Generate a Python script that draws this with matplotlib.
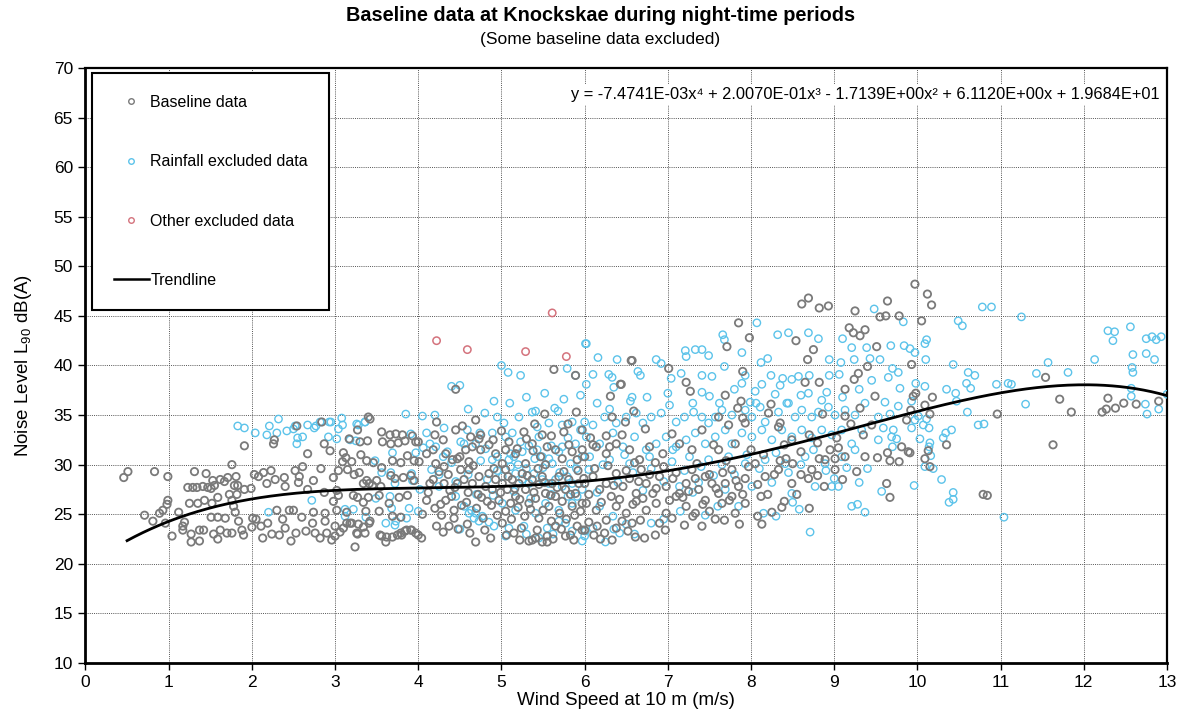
import matplotlib
matplotlib.use('Agg')
import matplotlib.pyplot as plt
import numpy as np
from matplotlib.lines import Line2D

plt.rcParams['font.family'] = ['Liberation Sans', 'DejaVu Sans']
plt.rcParams['mathtext.default'] = 'regular'

# ---------------- data (wind speed m/s, noise level dB(A)) ----------------
base_low_wind = [
    (0.46, 28.7), (0.51, 29.3), (0.83, 29.3), (0.99, 28.8), (0.71, 24.9), (0.81, 24.3), (0.89, 25.1),
    (0.93, 25.4), (0.98, 26.0), (0.99, 26.4), (0.96, 24.1),
    (1.04, 22.8), (1.12, 25.2), (1.17, 23.8), (1.17, 23.4), (1.19, 24.2), (1.23, 27.7), (1.29, 27.7),
    (1.34, 27.7), (1.41, 27.8), (1.47, 27.7), (1.51, 27.6), (1.31, 29.3), (1.45, 29.1), (1.53, 28.4),
    (1.55, 27.9), (1.62, 28.5), (1.67, 28.3), (1.71, 28.7), (1.81, 28.8), (1.76, 30.0), (1.83, 27.9),
    (1.79, 27.9), (1.91, 27.5), (1.99, 27.6), (1.25, 26.1), (1.35, 26.1), (1.43, 26.4), (1.52, 26.1),
    (1.59, 26.7), (1.73, 27.0), (1.76, 26.4), (1.82, 27.0), (1.78, 25.8), (1.80, 25.2),
    (1.27, 23.0), (1.27, 22.2), (1.37, 22.3), (1.37, 23.4), (1.42, 23.4), (1.51, 24.7), (1.59, 24.7),
    (1.54, 23.0), (1.59, 22.5), (1.62, 23.4), (1.68, 24.6), (1.70, 23.1), (1.76, 23.1), (1.84, 24.3),
    (1.88, 23.4), (1.90, 22.9), (2.00, 23.7), (2.01, 24.6), (2.05, 24.5), (2.11, 23.8), (2.13, 22.6),
    (2.19, 24.1), (2.24, 23.0), (2.30, 25.4), (2.37, 24.5), (2.40, 23.6), (2.45, 25.4), (2.50, 25.4),
    (2.47, 22.3), (2.53, 23.1), (2.60, 24.7), (2.74, 25.2), (2.73, 24.1), (2.76, 23.1), (2.88, 24.3),
    (2.90, 23.1), (2.96, 22.4), (2.82, 22.6), (2.65, 23.3), (2.33, 22.9),
    (1.91, 31.9), (2.27, 32.5), (2.26, 32.1), (2.54, 33.9), (2.67, 31.1), (2.84, 34.3), (2.87, 32.1),
    (2.94, 31.4), (2.03, 29.0), (2.08, 28.8), (2.14, 29.2), (2.23, 29.4), (2.18, 28.1), (2.28, 28.5),
    (2.39, 28.7), (2.40, 27.8), (2.52, 29.4), (2.57, 28.8), (2.56, 28.2), (2.61, 29.8), (2.67, 27.5),
    (2.74, 28.4), (2.83, 29.6), (2.87, 27.2), (2.98, 28.7), (2.98, 26.3), (2.88, 25.1),
]

base_3_to_4 = [
    (3.24, 21.7), (3.40, 34.8), (3.42, 34.6), (3.17, 32.6), (3.27, 33.5), (3.30, 32.3), (3.39, 32.4),
    (3.56, 33.3), (3.66, 33.0), (3.73, 33.1), (3.81, 33.0), (3.57, 32.3), (3.67, 32.1), (3.76, 32.2),
    (3.84, 32.4), (3.93, 32.9), (3.97, 32.3), (3.10, 31.2), (3.13, 30.7), (3.20, 30.3), (3.09, 30.3),
    (3.31, 31.0), (3.38, 30.4), (3.46, 30.2), (3.56, 29.7), (3.69, 30.4), (3.79, 30.2), (3.87, 30.9),
    (3.95, 30.4), (3.04, 29.4), (3.15, 29.5), (3.23, 29.0), (3.29, 29.2), (3.38, 28.4), (3.41, 28.1),
    (3.34, 28.1), (3.45, 27.9), (3.50, 28.4), (3.55, 27.8), (3.67, 28.9), (3.72, 28.6), (3.82, 28.7),
    (3.91, 28.9), (3.95, 28.4), (3.02, 27.4), (3.04, 26.9), (3.22, 26.9), (3.27, 26.7), (3.34, 26.2),
    (3.40, 26.7), (3.53, 26.9), (3.65, 26.1), (3.77, 26.7), (3.87, 26.9), (3.02, 25.4), (3.14, 25.2),
    (3.37, 25.3), (3.53, 25.3), (3.69, 24.8), (3.79, 24.7), (3.14, 24.1), (3.20, 24.1), (3.28, 24.0),
    (3.34, 23.7), (3.41, 24.1), (3.10, 23.6), (3.06, 23.2), (3.27, 23.0), (3.36, 23.1), (3.56, 22.8),
    (3.61, 22.2), (3.62, 22.7), (3.69, 22.7), (3.75, 22.9), (3.79, 23.1), (3.84, 23.3), (3.91, 23.4),
    (3.97, 23.1), (3.00, 23.8), (3.00, 22.8), (3.18, 24.1), (3.26, 23.1), (3.42, 24.3), (3.54, 22.9),
    (3.80, 22.9), (3.86, 23.4), (3.92, 23.4),
]

base_4_to_6 = [
    (5.63, 39.6), (4.45, 37.6), (5.89, 39.0), (4.22, 34.3), (4.69, 34.5), (4.45, 33.5), (4.53, 33.9),
    (5.52, 35.1), (5.90, 35.3), (5.27, 33.3), (5.49, 33.0), (5.80, 34.1), (5.97, 33.5), (4.75, 33.0),
    (4.00, 32.3), (4.01, 30.3), (4.10, 31.1), (4.18, 31.5), (4.21, 30.1), (4.31, 29.8), (4.33, 31.1),
    (4.41, 30.5), (4.47, 30.6), (4.57, 31.5), (4.61, 30.3), (4.63, 32.8), (4.73, 32.6), (4.65, 31.8),
    (4.75, 31.5), (4.85, 32.0), (4.93, 31.1), (5.01, 30.1), (5.05, 31.5), (5.09, 32.3), (5.17, 31.1),
    (5.19, 31.6), (5.29, 30.1), (5.37, 32.1), (5.38, 31.4), (5.47, 30.8), (5.53, 30.0), (5.55, 31.8),
    (5.65, 31.5), (5.73, 30.6), (5.81, 32.0), (5.85, 31.3), (5.91, 30.5), (5.97, 31.5),
    (4.10, 26.4), (4.14, 28.1), (4.18, 28.5), (4.25, 29.3), (4.31, 28.1), (4.33, 26.4), (4.38, 27.4),
    (4.43, 25.4), (4.47, 28.1), (4.51, 29.5), (4.55, 28.5), (4.61, 29.5), (4.65, 28.1), (4.73, 28.8),
    (4.76, 26.7), (4.81, 27.8), (4.85, 29.1), (4.89, 27.5), (4.93, 28.5), (4.97, 26.4), (5.01, 28.1),
    (5.05, 29.5), (5.07, 27.5), (5.11, 26.1), (5.13, 28.5), (5.17, 26.8), (5.21, 28.1), (5.25, 29.1),
    (5.29, 27.5), (5.33, 26.1), (5.37, 28.5), (5.41, 26.6), (5.45, 28.0), (5.49, 28.8), (5.53, 27.1),
    (5.57, 25.8), (5.61, 28.1), (5.65, 26.8), (5.69, 28.8), (5.73, 26.3), (5.77, 27.5), (5.81, 28.5),
    (5.85, 25.8), (5.89, 27.1), (5.93, 28.1), (5.97, 26.1),
    (4.00, 22.9), (4.04, 22.6), (4.22, 23.8), (4.37, 23.8), (4.43, 24.6), (4.59, 24.0), (4.69, 22.2),
    (5.01, 24.1), (5.15, 23.1), (5.33, 22.3), (5.37, 22.4), (5.41, 22.6), (5.49, 22.2), (5.55, 22.8),
    (5.55, 22.2), (5.65, 23.8), (5.77, 22.8), (5.83, 22.9), (5.91, 23.8), (5.97, 23.4),
    (4.05, 25.0), (4.20, 25.6), (4.28, 24.9), (4.40, 26.8), (4.52, 25.9), (4.60, 27.2), (4.70, 25.6),
    (4.78, 24.6), (4.88, 25.9), (4.95, 24.9), (5.05, 25.3), (5.12, 24.5), (5.20, 25.7), (5.28, 24.8),
    (5.35, 25.5), (5.45, 24.6), (5.50, 25.4), (5.60, 24.3), (5.70, 25.1), (5.78, 24.5), (5.88, 24.9),
    (5.95, 25.3),
]

base_core_extra = [
    (4.12, 27.2), (4.27, 26.0), (4.36, 29.0), (4.44, 27.7), (4.58, 26.2), (4.66, 29.9), (4.72, 27.0),
    (4.83, 26.3), (4.91, 29.6), (4.99, 27.2), (5.08, 28.8), (5.16, 27.6), (5.22, 26.5), (5.31, 28.9),
    (5.39, 27.2), (5.44, 29.6), (5.52, 28.2), (5.59, 26.9), (5.67, 27.7), (5.75, 29.3), (5.83, 27.0),
    (5.92, 29.4), (5.99, 28.6), (4.30, 23.2), (4.48, 23.5), (4.62, 23.1), (4.80, 23.4), (4.87, 22.6),
    (5.06, 22.9), (5.22, 22.4), (5.24, 23.6), (5.43, 23.4), (5.62, 22.5), (5.72, 23.5), (5.87, 22.4),
    (6.05, 24.2), (6.15, 23.8), (6.24, 23.1), (6.33, 22.4), (6.52, 23.3), (6.61, 22.7), (6.85, 22.9),
    (7.05, 24.6), (7.20, 23.9), (7.30, 24.8), (7.50, 25.3), (7.68, 24.4),
    (6.05, 27.0), (6.12, 29.6), (6.20, 26.2), (6.28, 29.9), (6.35, 27.9), (6.42, 26.5), (6.50, 29.4),
    (6.58, 26.0), (6.65, 28.3), (6.70, 26.6), (6.78, 29.0), (6.86, 27.6), (6.95, 29.8), (7.02, 26.4),
    (7.10, 29.2), (7.18, 26.7), (7.25, 27.3), (7.33, 28.6), (7.42, 26.0), (7.50, 29.0), (7.58, 27.6),
    (7.66, 29.2), (7.74, 26.4), (7.82, 28.4), (7.90, 27.0), (7.97, 29.8), (8.08, 28.0), (8.20, 27.0),
    (8.28, 29.0), (8.42, 30.6), (8.60, 29.0), (8.80, 28.9), (8.95, 31.5),
    (6.10, 32.0), (6.45, 33.0), (6.60, 30.2), (6.85, 30.2), (7.05, 33.1), (7.35, 30.1), (7.55, 32.0),
    (7.70, 30.4), (8.00, 31.5), (8.15, 31.0), (8.40, 32.0), (8.60, 31.3), (8.80, 32.2), (9.05, 31.7),
    (9.20, 34.1), (9.35, 33.0), (4.30, 32.5), (4.50, 30.8), (4.90, 32.5), (5.30, 32.6), (5.60, 32.9),
    (5.75, 33.3), (4.20, 33.0), (5.00, 33.4), (5.40, 34.1),
]

base_6_to_9 = [
    (8.61, 46.2), (8.69, 46.8), (8.82, 45.8), (8.93, 46.0), (9.25, 45.5), (7.85, 44.3), (7.98, 42.8),
    (7.71, 41.9), (8.54, 42.5), (8.75, 41.6), (8.68, 40.6), (9.18, 43.8), (9.23, 43.3), (9.31, 43.0),
    (9.37, 43.6), (9.40, 39.9), (9.29, 39.2), (9.24, 38.6), (6.57, 40.5), (7.01, 39.7), (6.44, 38.1),
    (6.31, 36.9), (7.22, 38.3), (7.27, 37.4), (7.90, 39.4), (7.69, 37.0), (7.88, 36.4), (7.84, 35.7),
    (8.65, 38.3), (8.82, 38.3), (9.13, 37.6), (9.31, 35.7), (6.59, 35.4), (6.33, 34.8), (6.49, 34.3),
    (6.73, 33.6), (7.61, 34.8), (7.90, 34.7), (7.73, 34.0), (8.21, 35.2), (8.24, 36.1), (8.35, 34.2),
    (8.86, 35.1), (9.13, 34.9), (9.03, 32.7), (8.70, 33.0), (8.35, 30.4), (8.50, 30.1), (8.82, 30.6),
    (9.01, 30.6), (9.37, 30.8), (9.27, 29.3), (9.10, 28.5), (8.88, 27.8), (8.69, 28.6), (8.55, 27.0),
    (8.40, 26.3), (8.37, 25.7), (8.70, 25.6), (8.25, 25.2), (8.12, 26.8), (8.08, 24.8), (8.13, 24.0),
    (7.86, 24.0), (7.81, 25.1), (7.57, 24.5), (7.41, 23.8), (6.97, 23.4), (6.90, 24.1), (6.72, 22.6),
    (6.57, 24.1), (6.67, 24.4), (6.19, 22.5), (6.11, 22.9), (6.00, 23.4), (6.38, 23.6), (6.45, 24.3),
    (6.56, 40.5), (6.43, 38.1), (6.07, 32.7), (6.26, 32.9), (6.30, 31.8),
    (6.00, 28.1), (6.10, 28.8), (6.18, 27.5), (6.26, 28.1), (6.32, 26.8), (6.38, 29.1), (6.46, 27.8),
    (6.54, 28.6), (6.62, 27.1), (6.68, 29.5), (6.74, 28.1), (6.82, 27.1), (6.90, 28.8), (6.98, 27.8),
    (7.06, 28.6), (7.14, 27.1), (7.22, 28.1), (7.29, 29.5), (7.37, 27.5), (7.45, 28.8), (7.53, 28.1),
    (7.61, 27.1), (7.69, 28.1), (7.77, 29.5), (7.85, 27.8), (7.93, 28.6), (8.05, 30.1), (8.17, 28.8),
    (8.33, 29.5), (8.49, 28.1), (8.73, 29.5), (8.89, 30.5), (9.01, 29.5), (9.13, 30.8),
    (6.02, 26.1), (6.14, 25.4), (6.26, 24.4), (6.38, 25.8), (6.50, 25.1), (6.62, 26.3), (6.74, 25.4),
    (6.86, 26.1), (6.98, 25.1), (7.10, 26.8), (7.22, 25.8), (7.33, 25.1), (7.45, 26.4), (7.65, 26.1),
    (7.77, 26.8), (7.93, 26.1),
    (6.00, 30.8), (6.14, 31.8), (6.26, 31.1), (6.38, 32.1), (6.54, 31.5), (6.66, 30.5), (6.78, 31.8),
    (6.94, 31.1), (7.14, 32.1), (7.29, 31.5), (7.41, 33.5), (7.61, 31.5), (7.81, 32.1), (7.93, 34.2),
    (8.33, 33.8), (8.49, 32.5),
]

base_high_wind = [
    (9.97, 48.2), (10.12, 47.2), (10.17, 46.1), (9.64, 46.5), (9.55, 44.9), (9.62, 45.0), (9.78, 45.0),
    (10.05, 44.5), (9.51, 41.9), (9.93, 40.1), (9.49, 36.9), (9.95, 36.9), (9.98, 37.2), (9.92, 35.5),
    (10.09, 36.0), (10.15, 35.1), (10.18, 36.8), (9.87, 34.5), (9.45, 34.0), (9.81, 31.8), (9.89, 31.3),
    (9.91, 31.2), (10.13, 31.4), (10.09, 30.6), (10.15, 29.8), (10.35, 32.0), (9.52, 30.7), (9.64, 31.2),
    (9.67, 30.4), (9.78, 30.3), (9.63, 28.1), (9.67, 26.7), (10.79, 27.0), (10.84, 26.9), (10.96, 35.1),
    (11.54, 38.8), (11.71, 36.6), (11.63, 32.0), (11.85, 35.3), (12.22, 35.3), (12.27, 35.6),
    (12.29, 36.7), (12.38, 35.7), (12.48, 36.2), (12.63, 36.1), (12.90, 36.4),
]

rain_low_wind = [
    (1.83, 33.9), (1.91, 33.7), (2.04, 33.2), (2.21, 33.9), (2.18, 33.0), (2.30, 33.2), (2.32, 34.6),
    (2.42, 33.4), (2.50, 33.6), (2.52, 33.9), (2.55, 32.7), (2.54, 32.1), (2.61, 32.8), (2.67, 34.0),
    (2.75, 33.7), (2.77, 33.9), (2.92, 32.8), (2.95, 34.3), (2.72, 26.4), (2.20, 25.2),
    (3.85, 35.1), (3.08, 34.7), (3.09, 34.0), (3.04, 33.6), (2.82, 34.3), (2.93, 34.3), (3.26, 34.1),
    (3.36, 34.3), (3.25, 32.4), (3.48, 30.4), (3.91, 33.1), (3.97, 31.2), (3.69, 31.2), (3.56, 29.2),
    (3.67, 29.2), (3.49, 26.6), (3.12, 25.5), (3.22, 25.5), (3.37, 24.7), (3.61, 24.1), (3.73, 24.3),
    (3.68, 25.6), (3.89, 25.6), (3.93, 28.4), (3.72, 28.1), (3.92, 29.1), (3.66, 26.8), (3.72, 23.9),
    (3.86, 24.6), (3.12, 24.8), (3.02, 32.6), (3.18, 32.5), (3.36, 34.3), (3.28, 34.0),
]

rain_4_to_6 = [
    (4.50, 38.0), (5.00, 40.0), (5.08, 39.3), (5.23, 39.0), (5.79, 39.7), (5.89, 39.0), (6.01, 42.2),
    (4.91, 36.4), (5.37, 35.3), (5.41, 35.4), (5.64, 35.7), (5.68, 35.4), (5.21, 34.8), (4.95, 34.8),
    (4.10, 33.2), (4.31, 33.7), (5.85, 34.3), (5.73, 34.0), (5.57, 34.2), (5.43, 33.8), (5.03, 34.2),
    (5.13, 33.2), (4.89, 33.2), (4.59, 33.5), (4.74, 33.2), (4.06, 31.7), (4.14, 32.1), (4.21, 31.8),
    (4.35, 31.3), (4.30, 30.8), (4.51, 32.3), (4.55, 32.1), (4.69, 32.1), (4.81, 31.6), (4.89, 30.5),
    (4.95, 30.8), (5.09, 30.5), (5.15, 30.8), (5.23, 32.3), (5.25, 31.3), (5.33, 31.9), (5.43, 31.5),
    (5.49, 30.8), (5.57, 30.6), (5.61, 30.1), (5.69, 31.3), (5.73, 31.8), (5.83, 30.1), (5.89, 32.1),
    (5.97, 30.8), (5.45, 32.8), (5.11, 31.1), (4.02, 27.5), (4.16, 29.5), (4.25, 27.8), (4.45, 26.8),
    (4.55, 25.8), (4.61, 25.1), (4.69, 25.1), (4.77, 24.8), (4.64, 25.4), (4.83, 28.5), (5.01, 28.8),
    (5.11, 29.8), (5.17, 29.1), (5.25, 28.5), (5.33, 28.1), (5.39, 29.1), (5.49, 28.5), (5.57, 28.1),
    (5.65, 28.5), (5.73, 27.8), (5.79, 28.8), (5.85, 28.1), (5.91, 26.8), (5.97, 27.5), (5.01, 26.1),
    (5.17, 25.4), (5.41, 25.1), (5.53, 26.1), (5.69, 25.4), (5.85, 26.1), (4.00, 25.3), (4.67, 24.6),
    (4.73, 24.3), (4.91, 23.8), (5.09, 23.6), (5.27, 23.8), (5.55, 23.6), (5.69, 24.3), (5.77, 24.1),
    (5.97, 22.3), (6.01, 23.3), (4.05, 34.9), (4.40, 37.9), (5.52, 37.2),
]

rain_core_extra = [
    (4.40, 30.2), (4.60, 29.0), (4.75, 30.4), (4.95, 29.4), (5.05, 32.8), (5.20, 30.0), (5.30, 29.6),
    (5.40, 30.6), (5.50, 29.7), (5.60, 31.9), (5.70, 29.2), (5.80, 32.7), (5.90, 29.6), (5.95, 33.5),
    (4.50, 23.5), (4.85, 24.2), (5.05, 22.8), (5.30, 23.0), (5.45, 22.6), (5.62, 23.0), (5.85, 23.3),
    (6.10, 23.6), (6.25, 22.2), (6.35, 23.5), (6.50, 24.0), (6.60, 23.0), (6.95, 24.5), (7.15, 25.3),
    (7.45, 24.9), (7.60, 25.8), (7.85, 25.8), (8.30, 24.8), (8.50, 26.2),
    (6.05, 29.5), (6.15, 27.2), (6.22, 30.0), (6.40, 28.2), (6.48, 31.0), (6.58, 29.2), (6.70, 27.4),
    (6.80, 29.6), (6.95, 28.3), (7.05, 30.3), (7.20, 29.4), (7.30, 27.2), (7.40, 29.8), (7.55, 28.9),
    (7.65, 30.0), (7.80, 29.0), (7.95, 31.0), (8.10, 29.6), (8.30, 31.2), (8.45, 29.2), (8.60, 30.0),
    (8.75, 31.5), (8.90, 29.4), (9.00, 28.6), (9.15, 29.7), (9.30, 28.2), (9.40, 29.6),
    (6.15, 36.2), (6.30, 35.6), (6.55, 36.4), (6.75, 36.8), (7.00, 37.2), (7.30, 36.2), (7.50, 36.9),
    (7.80, 37.6), (8.05, 37.4), (8.35, 38.0), (8.60, 37.0), (8.85, 36.5), (9.10, 36.8), (9.30, 37.6),
    (9.45, 38.5), (4.20, 35.0), (4.60, 35.6), (4.80, 35.2), (5.10, 36.2), (5.30, 36.8), (5.75, 36.6),
    (5.95, 37.0), (4.25, 29.0), (4.45, 28.3), (4.70, 27.0), (4.90, 26.9), (5.15, 27.3), (5.35, 26.6),
    (5.60, 27.0), (5.80, 26.8),
]

rain_6_to_9 = [
    (9.48, 45.7), (8.07, 44.3), (7.66, 43.1), (7.68, 42.6), (8.32, 43.1), (8.45, 43.3), (8.69, 43.3),
    (8.81, 42.7), (9.10, 42.7), (9.21, 41.8), (9.39, 41.8), (7.21, 41.5), (7.33, 41.6), (7.41, 41.6),
    (7.49, 41.0), (7.22, 40.9), (7.89, 41.3), (8.12, 40.3), (8.20, 40.7), (8.94, 40.6), (9.08, 40.3),
    (9.24, 40.6), (9.43, 40.7), (6.02, 42.2), (6.16, 40.8), (6.39, 40.6), (6.86, 40.6), (6.92, 40.2),
    (6.10, 39.1), (6.29, 39.1), (6.33, 38.8), (6.64, 39.4), (6.67, 39.0), (6.02, 38.1), (6.35, 37.8),
    (6.57, 36.8), (7.04, 38.7), (7.16, 39.2), (7.41, 39.0), (7.53, 38.9), (7.68, 39.9), (7.89, 38.2),
    (7.93, 39.0), (8.24, 39.0), (8.13, 38.1), (8.38, 38.7), (8.49, 38.6), (8.57, 38.9), (8.70, 39.0),
    (8.94, 39.0), (9.06, 39.1), (7.41, 37.3), (7.62, 36.2), (7.99, 36.3), (8.06, 36.2), (8.29, 37.1),
    (8.45, 36.2), (8.69, 37.2), (8.91, 37.3),
    (6.00, 34.3), (6.10, 34.0), (6.24, 34.8), (6.38, 34.2), (6.50, 34.8), (6.62, 35.2), (6.70, 34.2),
    (6.80, 34.8), (6.92, 35.2), (7.02, 36.0), (7.10, 34.3), (7.20, 34.8), (7.31, 35.3), (7.41, 34.8),
    (7.49, 34.2), (7.57, 34.8), (7.65, 35.5), (7.77, 35.0), (7.93, 35.5), (8.01, 34.8), (8.11, 35.8),
    (8.17, 34.3), (8.33, 35.3), (8.43, 36.2), (8.53, 34.8), (8.61, 35.5), (8.73, 34.8), (8.81, 35.3),
    (8.93, 35.8), (9.01, 35.0), (9.13, 35.5), (9.25, 35.0), (9.37, 36.2),
    (6.02, 32.8), (6.18, 32.1), (6.34, 33.2), (6.46, 31.8), (6.60, 32.8), (6.74, 31.5), (6.86, 32.1),
    (6.98, 32.8), (7.10, 31.8), (7.22, 32.5), (7.33, 33.2), (7.45, 32.1), (7.57, 32.8), (7.69, 33.5),
    (7.77, 32.1), (7.89, 33.2), (8.01, 32.8), (8.13, 33.5), (8.25, 32.5), (8.37, 33.5), (8.49, 32.8),
    (8.61, 33.5), (8.73, 32.7), (8.85, 33.5), (8.97, 33.0), (9.09, 33.5), (9.21, 32.1), (9.33, 33.5),
    (6.06, 30.8), (6.30, 30.5), (6.54, 30.1), (6.78, 30.8), (7.06, 31.5), (7.26, 30.8), (7.49, 30.5),
    (7.73, 30.8), (7.93, 30.1), (8.17, 30.5), (8.41, 30.1), (8.65, 30.8), (8.89, 30.1), (9.09, 30.8),
    (9.25, 31.5), (7.14, 27.8), (7.37, 28.2), (7.69, 27.5), (8.01, 27.8), (8.25, 28.2), (8.49, 27.1),
    (8.77, 27.8), (8.97, 27.8), (9.05, 27.8), (9.21, 25.8), (9.28, 26.0), (9.37, 25.2), (8.71, 23.2),
    (8.58, 25.5), (8.15, 25.1), (6.80, 24.1), (6.42, 23.1), (6.34, 24.8), (6.18, 25.8), (6.00, 22.8),
]

rain_high_wind = [
    (9.83, 44.4), (10.78, 45.9), (10.89, 45.9), (11.25, 44.9), (10.49, 44.5), (10.54, 44.0),
    (10.11, 42.6), (10.09, 42.2), (9.68, 42.0), (9.84, 42.0), (9.91, 41.7), (9.97, 41.3), (10.10, 40.6),
    (10.43, 40.1), (9.55, 40.6), (9.77, 39.3), (10.61, 39.3), (10.69, 39.0), (11.57, 40.3), (11.43, 39.2),
    (11.81, 39.3), (12.13, 40.6), (12.29, 43.5), (12.37, 43.4), (12.35, 42.5), (12.56, 43.9),
    (12.59, 41.1), (12.58, 39.8), (12.59, 39.3), (12.75, 42.7), (12.82, 42.9), (12.87, 42.6),
    (12.93, 42.9), (12.75, 41.2), (12.85, 40.6), (12.57, 37.7), (12.57, 36.9), (12.74, 36.1),
    (12.76, 35.1), (12.90, 35.6), (13.00, 37.1), (10.95, 38.1), (11.09, 38.2), (11.13, 38.1),
    (11.30, 36.1), (10.60, 35.3), (10.46, 37.2), (10.47, 36.4), (10.35, 37.6), (10.59, 38.2),
    (10.64, 37.7), (10.73, 34.0), (10.80, 34.1), (10.41, 33.5), (10.34, 33.2), (10.31, 32.7),
    (10.15, 32.2), (10.14, 31.8), (10.16, 30.9), (10.09, 29.8), (10.19, 29.6), (10.29, 28.5),
    (10.43, 27.2), (10.43, 26.5), (10.38, 26.2), (9.96, 27.9), (9.57, 27.3), (11.04, 24.7),
    (10.03, 32.6), (10.07, 34.0), (10.14, 33.7), (10.11, 34.6), (10.01, 34.9), (9.97, 34.5),
    (9.93, 36.4), (9.98, 38.2), (10.09, 37.9), (9.65, 38.8), (9.70, 39.7), (9.79, 37.7), (9.61, 36.3),
    (9.77, 35.9), (9.67, 35.1), (9.53, 34.8), (9.59, 33.7), (9.71, 33.5), (9.69, 32.8), (9.75, 32.6),
    (9.70, 31.8), (9.53, 32.5), (9.93, 33.7),
]

other_excluded = [(4.22, 42.5), (4.59, 41.6), (5.29, 41.4), (5.61, 45.3), (5.78, 40.9)]

trend_coefficients = [-7.4741e-3, 2.0070e-1, -1.7139e+0, 6.1120e+0, 1.9684e+1]
trend_range = (0.5, 13.0)

x_ticks = list(range(0, 14))
y_ticks = list(range(10, 75, 5))

title = 'Baseline data at Knockskae during night-time periods'
subtitle = '(Some baseline data excluded)'
equation = ('y = -7.4741E-03x\u2074 + 2.0070E-01x\u00b3 - 1.7139E+00x\u00b2 '
            '+ 6.1120E+00x + 1.9684E+01')
legend_labels = ['Baseline data', 'Rainfall excluded data', 'Other excluded data', 'Trendline']

# ---------------- styling ----------------
col_base = '#7a7a7a'
col_rain = '#5cc3ea'
col_other = '#d4737d'

fig = plt.figure(figsize=(11.89, 7.23), dpi=100)
ax = fig.add_axes([0.0719, 0.083, 0.9096, 0.823])

base = np.array(base_low_wind + base_3_to_4 + base_4_to_6 + base_core_extra + base_6_to_9 + base_high_wind)
rain = np.array(rain_low_wind + rain_4_to_6 + rain_core_extra + rain_6_to_9 + rain_high_wind)
other = np.array(other_excluded)

ms = 28
ax.scatter(rain[:, 0], rain[:, 1], s=ms, facecolors='none', edgecolors=col_rain, linewidths=1.0, zorder=3)
ax.scatter(base[:, 0], base[:, 1], s=ms, facecolors='none', edgecolors=col_base, linewidths=1.3, zorder=3)
ax.scatter(other[:, 0], other[:, 1], s=ms, facecolors='none', edgecolors=col_other, linewidths=1.1, zorder=3)

tx = np.linspace(trend_range[0], trend_range[1], 400)
ax.plot(tx, np.polyval(trend_coefficients, tx), color='black', lw=2.0, zorder=5)

ax.set_xlim(0, 13)
ax.set_ylim(10, 70)
ax.set_xticks(x_ticks)
ax.set_yticks(y_ticks)
ax.grid(True, color='#555555', linestyle=(0, (1, 1.2)), linewidth=0.7, zorder=0)
ax.set_axisbelow(True)
ax.tick_params(direction='out', length=5, width=1, labelsize=12.5, pad=4, colors='black')
for side in ['left', 'bottom']:
    ax.spines[side].set_linewidth(2.0)
for side in ['top', 'right']:
    ax.spines[side].set_linewidth(1.6)

ax.set_xlabel('Wind Speed at 10 m (m/s)', fontsize=13.5, labelpad=1)
ax.set_ylabel('Noise Level L$_{90}$ dB(A)', fontsize=13.5, labelpad=14)

handles = [
    Line2D([], [], marker='o', ls='none', mfc='none', mec=col_base, ms=4, mew=1.0),
    Line2D([], [], marker='o', ls='none', mfc='none', mec=col_rain, ms=4, mew=1.0),
    Line2D([], [], marker='o', ls='none', mfc='none', mec=col_other, ms=4, mew=1.0),
    Line2D([], [], color='black', lw=1.8),
]
leg = ax.legend(handles, legend_labels, loc='upper left', bbox_to_anchor=(0.006, 0.991),
                fontsize=11.5, labelspacing=2.78, borderpad=1.35, handlelength=2.2,
                handletextpad=0.1, fancybox=False, edgecolor='black', framealpha=1,
                borderaxespad=0)
leg.get_frame().set_linewidth(1.5)
leg.set_zorder(10)

ax.text(0.9935, 0.955, equation, transform=ax.transAxes, ha='right', va='center',
        fontsize=11.8, zorder=11,
        bbox=dict(facecolor='white', edgecolor='none', pad=2))

fig.text(0.505, 0.978, title, ha='center', va='center', fontsize=14.3, fontweight='bold')
fig.text(0.505, 0.945, subtitle, ha='center', va='center', fontsize=12.5)

fig.savefig('out.png', dpi=100)
